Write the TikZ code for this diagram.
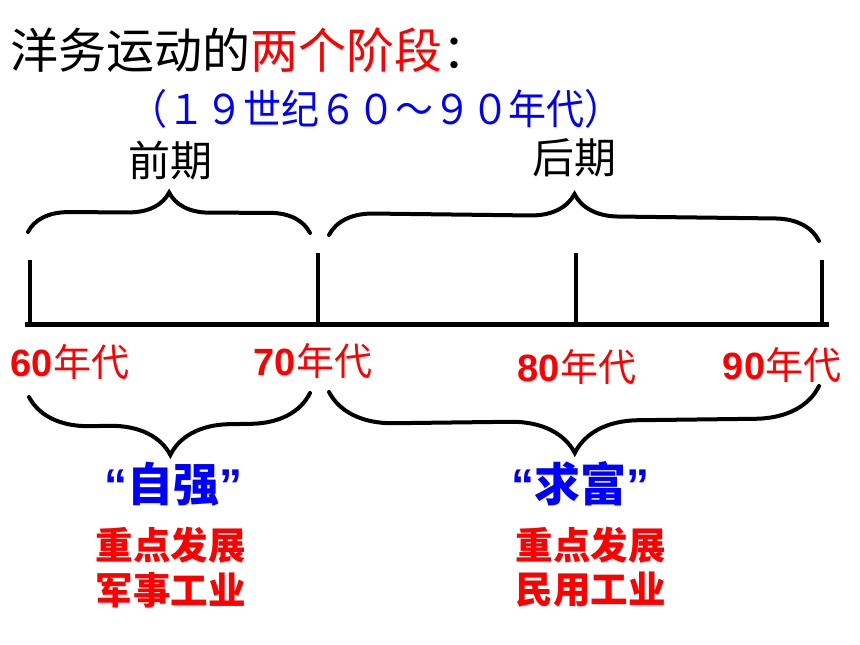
\documentclass[tikz,border=0pt]{standalone}
\usepackage{fontspec}
\setmainfont{Noto Sans CJK SC}
\newfontfamily\lat{Liberation Sans}
\usetikzlibrary{decorations.pathreplacing}
\definecolor{cred}{RGB}{255,0,0}
\definecolor{cblue}{RGB}{0,0,255}
\begin{document}
\begin{tikzpicture}[x=1pt,y=-1pt,
  bracestyle/.style={draw, line width=4pt, line cap=round, decorate, decoration={brace, amplitude=#1}},
  tickline/.style={line width=4pt},
  axisline/.style={line width=5pt},
  yearlbl/.style={inner sep=0pt, text=cred, font=\fontsize{38}{40}\selectfont},
  txt/.style={inner sep=0pt},
  slogan/.style={inner sep=0pt, text=cblue, font=\fontsize{46}{48}\selectfont\bfseries},
  desc/.style={inner sep=0pt, text=cred, font=\fontsize{37.5}{40}\selectfont\bfseries}
]
\useasboundingbox (0,0) rectangle (860,645);

% title
\node[txt, anchor=west, font=\fontsize{48}{50}\selectfont] (title) at (10,50)
  {洋务运动的\textcolor{cred}{两个阶段}：};
\node[txt, text=cblue, font=\fontsize{38}{40}\selectfont] (sub) at (376,109)
  {\scalebox{1}[1.08]{（１９世纪６０～９０年代）}};
\node[txt, font=\fontsize{42}{44}\selectfont] (early) at (170,161) {前期};
\node[txt, font=\fontsize{42}{44}\selectfont] (late) at (574,158) {后期};

% top braces
\coordinate (tlA) at (28,232);
\coordinate (tlB) at (310,233);
\coordinate (trA) at (329,235);
\coordinate (trB) at (819,241);
\draw[bracestyle=40pt] (tlA) -- (tlB);
\draw[bracestyle=44pt] (trA) -- (trB);

% timeline
\coordinate (axL) at (25,324);
\coordinate (axR) at (829,324);
\draw[axisline] (axL) -- (axR);
\coordinate (k0) at (30,324);
\coordinate (k1) at (318,324);
\coordinate (k2) at (576,324);
\coordinate (k3) at (822,324);
\coordinate (k0t) at (30,260);
\coordinate (k1t) at (318,253);
\coordinate (k2t) at (576,253);
\coordinate (k3t) at (822,260);
\draw[tickline] (k0) -- (k0t);
\draw[tickline] (k1) -- (k1t);
\draw[tickline] (k2) -- (k2t);
\draw[tickline] (k3) -- (k3t);

% year labels
\node[yearlbl] (y60) at (70,362) {{\lat\bfseries 60}年代};
\node[yearlbl] (y70) at (313,361) {{\lat\bfseries 70}年代};
\node[yearlbl] (y80) at (577,367) {{\lat\bfseries 80}年代};
\node[yearlbl] (y90) at (782,365) {{\lat\bfseries 90}年代};

% bottom braces
\coordinate (blA) at (310,393);
\coordinate (blB) at (29,397);
\coordinate (brA) at (819,386);
\coordinate (brB) at (329,392);
\draw[bracestyle=60pt] (blA) -- (blB);
\draw[bracestyle=64pt] (brA) -- (brB);

% slogans
\node[slogan] (zq) at (173,484) {{\lat “}自强{\lat ”}};
\node[slogan] (qf) at (580,484) {{\lat “}求富{\lat ”}};

\node[desc] (d1a) at (170.5,545) {重点发展};
\node[desc] (d1b) at (170.5,590) {军事工业};
\node[desc] (d2a) at (590.5,545) {重点发展};
\node[desc] (d2b) at (590.5,590) {民用工业};
\end{tikzpicture}
\end{document}
